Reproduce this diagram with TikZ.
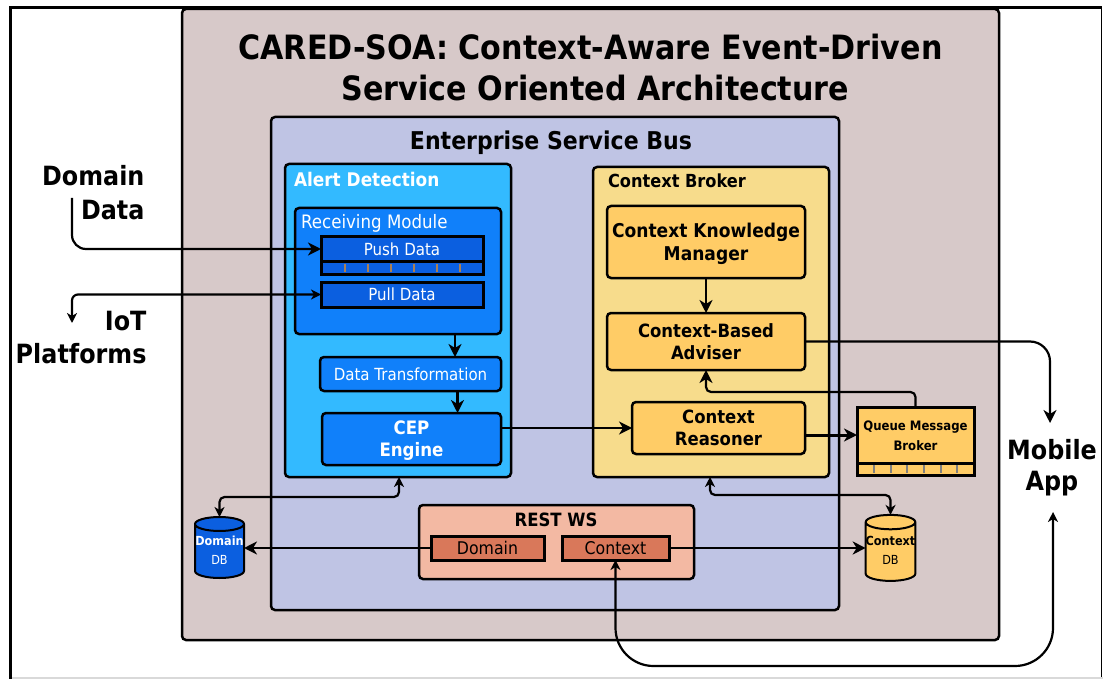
\documentclass[tikz,border=0pt]{standalone}
\usepackage{fontspec}
\setmainfont[FakeStretch=0.9]{DejaVu Sans}
\usetikzlibrary{arrows.meta,shapes.geometric}
\definecolor{cOuter}{HTML}{D7C9C9}
\definecolor{cEsb}{HTML}{BFC4E4}
\definecolor{cAlert}{HTML}{33BAFF}
\definecolor{cBlue}{HTML}{1080FA}
\definecolor{cDark}{HTML}{0B5FE0}
\definecolor{cBroker}{HTML}{F7DC8C}
\definecolor{cOrange}{HTML}{FFCC66}
\definecolor{cRest}{HTML}{F3B9A3}
\definecolor{cRestIn}{HTML}{D9785A}
\tikzset{
  x=1pt,y=-1pt,
  panel/.style={draw=black,rounded corners=4pt,line width=2.5pt,inner sep=0pt,outer sep=0pt,align=center,text depth=0pt},
  flat/.style={draw=black,line width=3pt,inner sep=0pt,outer sep=0pt,align=center,text depth=0pt},
  conn/.style={draw=black,line width=2.2pt,rounded corners=14pt,-{Stealth[length=13pt,width=13pt,inset=4pt]}},
  both/.style={draw=black,line width=2.2pt,rounded corners=5pt,{Stealth[length=10pt,width=10pt,inset=3pt]}-{Stealth[length=10pt,width=10pt,inset=3pt]}},
  big/.style={font=\fontsize{33.5}{40}\selectfont\bfseries},
  side/.style={font=\fontsize{26.5}{30}\selectfont\bfseries},
  can/.style={cylinder,shape border rotate=90,shape aspect=0.29,draw=black,line width=2pt,inner sep=0pt,outer sep=0pt,cylinder uses custom fill,text depth=0pt},
  tick/.style={line width=1.8pt},
}
\newcommand{\bx}[7]{%
  \pgfmathsetmacro{\cxx}{(#2+#4)/2}\pgfmathsetmacro{\cyy}{(#3+#5)/2}%
  \pgfmathsetmacro{\wdd}{#4-#2}\pgfmathsetmacro{\htt}{#5-#3}%
  \node[#6,minimum width=\wdd pt,minimum height=\htt pt] (#1) at (\cxx,\cyy) {#7};}
\begin{document}
\begin{tikzpicture}
\useasboundingbox (0,0) rectangle (1103,679);
\fill[white] (0,0) rectangle (1103,679);
\draw[line width=3pt] (10.5,679) -- (10.5,7.5) -- (1101.5,7.5);
\draw[line width=1.2pt] (1101.5,7.5) -- (1101.5,677);
\draw[line width=1.2pt,gray!30] (12,678) -- (1103,678);
\bx{outer}{182}{9}{999}{640}{panel,fill=cOuter}{}
\bx{esb}{271}{117}{839}{610}{panel,fill=cEsb}{}
\node[big] (t1) at (590.5,47) {CARED-SOA: Context-Aware Event-Driven};
\node[big] (t2) at (595.5,88) {Service Oriented Architecture};
\node[font=\fontsize{24.5}{28}\selectfont\bfseries] (esbt) at (551,143) {Enterprise Service Bus};
% Alert detection
\bx{alert}{285}{164}{511}{477}{panel,fill=cAlert}{}
\node[font=\fontsize{18.8}{22}\selectfont\bfseries,text=white,anchor=west] (alertt) at (290.5,179) {Alert Detection};
\bx{recv}{295}{208}{501}{334}{panel,fill=cBlue}{}
\node[font=\fontsize{18.5}{22}\selectfont,text=white,anchor=west] (recvt) at (297.5,223) {Receiving Module};
\bx{pushb}{321}{261}{483}{274}{flat,fill=cDark}{}
\bx{push}{321}{237}{483}{261}{flat,fill=cDark,text=white,font=\fontsize{16.7}{20}\selectfont}{Push Data}
\foreach \xx in {345,368,391,414,437,460}{\draw[tick,draw=brown!70!gray] (\xx,263.5) -- (\xx,271.5);}
\bx{pull}{321}{282}{483}{307}{flat,fill=cDark,text=white,font=\fontsize{16.7}{20}\selectfont}{Pull Data}
\bx{trans}{320}{357}{501}{391}{panel,fill=cBlue,text=white,font=\fontsize{16.7}{20}\selectfont}{Data Transformation}
\bx{cep}{322}{413}{501}{465}{panel,fill=cBlue,text=white,font=\fontsize{18.5}{22}\selectfont\bfseries}{CEP\\Engine}
% Context broker
\bx{broker}{593}{167}{829}{477}{panel,fill=cBroker}{}
\node[font=\fontsize{18}{22}\selectfont\bfseries,anchor=west] (brokert) at (604.5,181) {Context Broker};
\bx{ckm}{607}{206}{805}{278}{panel,fill=cOrange,font=\fontsize{19}{23}\selectfont\bfseries}{Context Knowledge\\Manager}
\bx{adv}{607}{313}{805}{370}{panel,fill=cOrange,font=\fontsize{18.3}{22}\selectfont\bfseries}{Context-Based\\Adviser}
\bx{reas}{632}{402}{805}{454}{panel,fill=cOrange,font=\fontsize{18.3}{22}\selectfont\bfseries}{Context\\Reasoner}
\bx{queueb}{857}{463}{974}{475}{flat,fill=cOrange}{}
\bx{queue}{857}{407}{974}{463}{flat,fill=cOrange,font=\fontsize{13}{20}\selectfont\bfseries}{\raisebox{-2pt}{Queue Message}\\\raisebox{-2pt}{Broker}}
\foreach \xx in {874,891,907,924,941,957}{\draw[tick,draw=gray] (\xx,465) -- (\xx,473);}
% REST
\bx{rest}{419}{505}{694}{579}{panel,fill=cRest}{}
\node[font=\fontsize{18.3}{22}\selectfont\bfseries] (restt) at (556,520) {REST WS};
\bx{rdom}{431}{536}{544}{560}{flat,fill=cRestIn,font=\fontsize{17.5}{20}\selectfont}{Domain}
\bx{rctx}{562}{536}{669}{560}{flat,fill=cRestIn,font=\fontsize{17.5}{20}\selectfont}{Context}
% DBs
\node[can,cylinder body fill=cDark,cylinder end fill=cDark,minimum width=49pt,minimum height=61pt,text=white,font=\fontsize{12.5}{19}\selectfont,align=center] (ddb) at (219.5,551.5) {\raisebox{3pt}{\textbf{Domain}}\\\raisebox{3pt}{DB}};
\node[can,cylinder body fill=cOrange,cylinder end fill=cOrange,minimum width=49pt,minimum height=66pt,font=\fontsize{12.5}{19}\selectfont,align=center] (cdb) at (890.5,552) {\raisebox{3pt}{\textbf{Context}}\\\raisebox{3pt}{DB}};
% Side labels
\node[side,anchor=east] (ldom) at (148,176) {Domain};
\node[side,anchor=east] (ldat) at (148,210) {Data};
\node[side,anchor=east] (liot) at (150,321) {IoT};
\node[side,anchor=east] (lplat) at (150,354) {Platforms};
\node[side] (lmob) at (1052,450) {Mobile};
\node[side] (lapp) at (1052,484) {App};
\coordinate (dsrc) at (72,198);
\coordinate (iotend) at (72,323);
\coordinate (mob1) at (1050,423);
\coordinate (mob2) at (1053,512);
% Connectors
\draw[conn] (dsrc) -- (72,249) -- (push.west);
\draw[both,rounded corners=6pt] (pull.west) -- (72,294.5) -- (iotend);
\draw[conn,rounded corners=0pt] ([xshift=57pt]recv.south) -- ([xshift=57pt]recv.south |- trans.north);
\draw[conn,rounded corners=0pt] ([xshift=47pt]trans.south) -- ([xshift=47pt]trans.south |- cep.north);
\draw[conn,rounded corners=0pt,line width=1.8pt] (cep.east |- 0,428) -- (reas.west |- 0,428);
\draw[conn,rounded corners=0pt] (ckm.south) -- (adv.north);
\draw[conn,rounded corners=20pt] (adv.east) -- (1050,341.5) -- (mob1);
\draw[conn,rounded corners=5pt] (queue.north) -- (915.5,392) -- (706,392) -- (adv.south);
\draw[conn,rounded corners=0pt,line width=3pt] (reas.east |- 0,435) -- (queue.west |- 0,435);
\draw[both] ([xshift=1pt]alert.south) -- (399,497) -- (219.5,497) -- (ddb.north);
\draw[both] ([xshift=-1pt]broker.south) -- (710,495) -- (890.5,495) -- (cdb.north);
\draw[conn,rounded corners=0pt] (rdom.west |- 0,548) -- (ddb.east |- 0,548);
\draw[conn,rounded corners=0pt] (rctx.east |- 0,548) -- (cdb.west |- 0,548);
\draw[both,rounded corners=38pt] (rctx.south) -- (615.5,666) -- (1053,666) -- (mob2);
\end{tikzpicture}
\end{document}
